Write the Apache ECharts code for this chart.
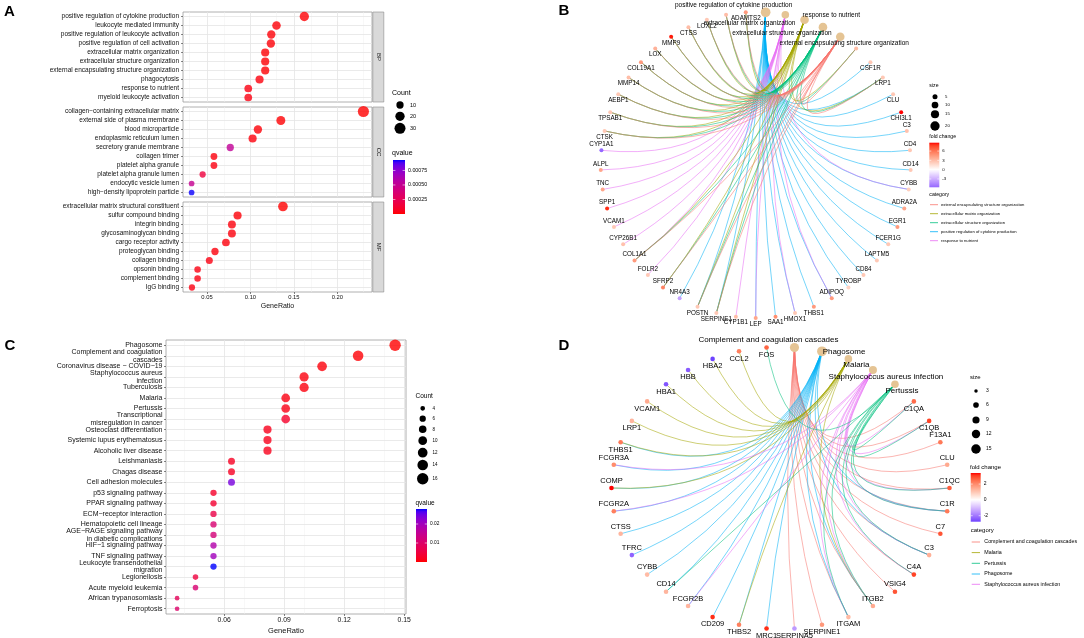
<!DOCTYPE html>
<html>
<head>
<meta charset="utf-8">
<script src="https://cdn.jsdelivr.net/npm/echarts@6.0.0/dist/echarts.min.js"></script>
<style>
html,body{margin:0;padding:0;background:#ffffff;}
#chart{width:1084px;height:638px;}
</style>
</head>
<body>
<div id="chart"></div>
<script>
// ================= DATA =================
// Panel A : GO enrichment (three facets)
const bpTerms = ['positive regulation of cytokine production','leukocyte mediated immunity','positive regulation of leukocyte activation','positive regulation of cell activation','extracellular matrix organization','extracellular structure organization','external encapsulating structure organization','phagocytosis','response to nutrient','myeloid leukocyte activation'];
const bpRatio = [0.162,0.130,0.124,0.1235,0.117,0.117,0.117,0.1105,0.0975,0.0975];
const bpCount = [20,16,15,15,14,14,14,14,12,12];
const bpQ = [0.00001,0.00002,0.00002,0.00002,0.00001,0.00001,0.00001,0.00003,0.00004,0.00004];

const ccTerms = ['collagen−containing extracellular matrix','external side of plasma membrane','blood microparticle','endoplasmic reticulum lumen','secretory granule membrane','collagen trimer','platelet alpha granule','platelet alpha granule lumen','endocytic vesicle lumen','high−density lipoprotein particle'];
const ccRatio = [0.230,0.135,0.1086,0.1025,0.0768,0.058,0.058,0.045,0.0323,0.0323];
const ccCount = [31,18,15,14,10,8,8,6,4,4];
const ccQ = [0.000001,0.00001,0.00002,0.00003,0.00052,0.00003,0.00004,0.00016,0.00050,0.00092];

const mfTerms = ['extracellular matrix structural constituent','sulfur compound binding','integrin binding','glycosaminoglycan binding','cargo receptor activity','proteoglycan binding','collagen binding','opsonin binding','complement binding','IgG binding'];
const mfRatio = [0.1374,0.0852,0.0787,0.0787,0.0718,0.0592,0.0527,0.0392,0.0392,0.0327];
const mfCount = [22,14,13,13,12,10,9,7,7,6];
const mfQ = [0.000001,0.00002,0.00003,0.00003,0.00003,0.00003,0.00004,0.00004,0.00004,0.00004];

const facetNames = ['BP','CC','MF'];
const ratioTicksA = [0.05,0.10,0.15,0.20];
const countLegendA = [10,20,30];
const qTicksA = [0.00025,0.00050,0.00075];

// Panel C : KEGG enrichment
const keggTerms = ['Phagosome','Complement and coagulation\ncascades','Coronavirus disease − COVID−19','Staphylococcus aureus\ninfection','Tuberculosis','Malaria','Pertussis','Transcriptional\nmisregulation in cancer','Osteoclast differentiation','Systemic lupus erythematosus','Alcoholic liver disease','Leishmaniasis','Chagas disease','Cell adhesion molecules','p53 signaling pathway','PPAR signaling pathway','ECM−receptor interaction','Hematopoietic cell lineage','AGE−RAGE signaling pathway\nin diabetic complications','HIF−1 signaling pathway','TNF signaling pathway','Leukocyte transendothelial\nmigration','Legionellosis','Acute myeloid leukemia','African trypanosomiasis','Ferroptosis'];
const keggRatio = [0.1455,0.127,0.109,0.100,0.100,0.0908,0.0908,0.0908,0.0817,0.0817,0.0817,0.0637,0.0637,0.0637,0.0547,0.0547,0.0547,0.0547,0.0547,0.0547,0.0547,0.0547,0.0457,0.0457,0.0365,0.0365];
const keggCount = [16,14,12,11,11,10,10,10,9,9,9,7,7,7,6,6,6,6,6,6,6,6,5,5,4,4];
const keggQ = [0.00003,0.0004,0.0008,0.001,0.001,0.0012,0.0015,0.003,0.002,0.002,0.002,0.0025,0.0025,0.024,0.003,0.0035,0.006,0.011,0.012,0.018,0.020,0.0279,0.005,0.011,0.008,0.010];
const ratioTicksC = [0.06,0.09,0.12,0.15];
const countLegendC = [4,6,8,10,12,14,16];
const qTicksC = [0.01,0.02];

// Panel B : GO cnetplot
const bCats = ['positive regulation of cytokine production','response to nutrient','extracellular matrix organization','extracellular structure organization','external encapsulating structure organization'];
const bGenes = ['?1','CSF1R','LRP1','CLU','CHI3L1','C3','CD4','CD14','CYBB','ADRA2A','EGR1','FCER1G','LAPTM5','CD84','TYROBP','ADIPOQ','THBS1','HMOX1','SAA1','LEP','CYP1B1','SERPINE1','POSTN','NR4A3','SFRP2','FOLR2','COL1A1','CYP26B1','VCAM1','SPP1','TNC','ALPL','CYP1A1','CTSK','TPSAB1','AEBP1','MMP14','COL19A1','LOX','MMP9','CTSS','LOXL2','?2','ADAMTS2'];
const bFoldChange = [3,2.5,2.5,2.5,8.7,2.8,2.5,2.5,2.2,4,4.5,2.5,2.5,2.5,2,4.5,4.5,2.5,5,4,3,2.5,2.5,-3.5,5.5,2.5,4.5,2.8,2.5,8.2,4,4,-5.7,2.5,2.5,2.5,3,4.5,3.5,8.5,3,2.5,3,4.5];
const bCytokineGenes = ['NR4A3','POSTN','SERPINE1','LEP','SAA1','HMOX1','THBS1','ADIPOQ','TYROBP','CD84','LAPTM5','FCER1G','EGR1','ADRA2A','CYBB','CD14','CD4','C3','CHI3L1','CLU','LRP1','CSF1R'];
const bNutrientGenes = ['CYP1A1','ALPL','TNC','SPP1','VCAM1','CYP26B1','COL1A1','FOLR2','CYP1B1','LEP','HMOX1','ADIPOQ','CYBB'];
const bMatrixGenes = ['ADAMTS2','?2','LOXL2','CTSS','MMP9','LOX','COL19A1','MMP14','AEBP1','TPSAB1','CTSK','COL1A1','SFRP2','POSTN','SERPINE1','LRP1','?1'];
const bStructureGenes = ['ADAMTS2','?2','LOXL2','CTSS','MMP9','LOX','COL19A1','MMP14','AEBP1','TPSAB1','CTSK','COL1A1','SFRP2','POSTN','SERPINE1','LRP1','?1'];
const bEncapsGenes = ['ADAMTS2','?2','LOXL2','CTSS','MMP9','LOX','COL19A1','MMP14','AEBP1','TPSAB1','CTSK','COL1A1','SFRP2','POSTN','SERPINE1','LRP1','?1'];
const bSizeLegend = [5,10,15,20];
const bFcTicks = [-3,0,3,6];

// Panel D : KEGG cnetplot
const dCats = ['Complement and coagulation cascades','Phagosome','Malaria','Staphylococcus aureus infection','Pertussis'];
const dGenes = ['C1QA','C1QB','F13A1','CLU','C1QC','C1R','C7','C3','C4A','VSIG4','ITGB2','ITGAM','SERPINE1','SERPINA5','MRC1','THBS2','CD209','FCGR2B','CD14','CYBB','TFRC','CTSS','FCGR2A','COMP','FCGR3A','THBS1','LRP1','VCAM1','HBA1','HBB','HBA2','CCL2','FOS'];
const dFoldChange = [2.5,3.0,2.3,1.5,2.7,2.3,2.8,1.4,3.0,2.8,1.5,1.2,1.8,-1.5,3.2,2.2,3.2,1.3,1.3,1.2,-2.3,1.3,2.2,3.4,2.0,2.3,1.3,1.5,-2.5,-2.4,-2.76,2.2,2.6];
const dComplementGenes = ['C1QA','C1QB','C1QC','C1R','C3','C4A','C7','CLU','F13A1','SERPINA5','SERPINE1','VSIG4','ITGAM','ITGB2'];
const dPhagosomeGenes = ['C1R','C3','CD14','CD209','COMP','CTSS','CYBB','FCGR2A','FCGR2B','FCGR3A','ITGAM','ITGB2','MRC1','TFRC','THBS1','THBS2'];
const dMalariaGenes = ['CCL2','COMP','HBA1','HBA2','HBB','LRP1','THBS1','THBS2','VCAM1','ITGB2'];
const dStaphGenes = ['C1QA','C1QB','C1QC','C1R','C3','C4A','FCGR2A','FCGR2B','FCGR3A','ITGAM','ITGB2'];
const dPertussisGenes = ['C1QA','C1QB','C1QC','C1R','C3','C4A','CD14','FOS','ITGAM','ITGB2'];
const dSizeLegend = [3,6,9,12,15];
const dFcTicks = [-2,0,2];

// ================= HELPERS =================
const FONT = '"Liberation Sans", Arial, Helvetica, sans-serif';
function hexToRgb(h){h=h.replace('#','');return [parseInt(h.slice(0,2),16),parseInt(h.slice(2,4),16),parseInt(h.slice(4,6),16)];}
function toLin(c){c/=255;return c<=0.04045?c/12.92:Math.pow((c+0.055)/1.055,2.4);}
function fromLin(c){c=Math.max(0,Math.min(1,c));return Math.round(255*(c<=0.0031308?12.92*c:1.055*Math.pow(c,1/2.4)-0.055));}
function rgbToLab(rgb){const R=toLin(rgb[0]),G=toLin(rgb[1]),B=toLin(rgb[2]);
  const X=(0.4124*R+0.3576*G+0.1805*B)/0.95047,Y=0.2126*R+0.7152*G+0.0722*B,Z=(0.0193*R+0.1192*G+0.9505*B)/1.08883;
  const f=t=>t>0.008856?Math.cbrt(t):7.787*t+16/116;const fx=f(X),fy=f(Y),fz=f(Z);
  return [116*fy-16,500*(fx-fy),200*(fy-fz)];}
function labToHex(lab){const fy=(lab[0]+16)/116,fx=fy+lab[1]/500,fz=fy-lab[2]/200;
  const fi=t=>{const t3=t*t*t;return t3>0.008856?t3:(t-16/116)/7.787;};
  const X=fi(fx)*0.95047,Y=fi(fy),Z=fi(fz)*1.08883;
  const r=fromLin(3.2406*X-1.5372*Y-0.4986*Z),g=fromLin(-0.9689*X+1.8758*Y+0.0415*Z),b=fromLin(0.0557*X-0.2040*Y+1.0570*Z);
  return '#'+[r,g,b].map(v=>v.toString(16).padStart(2,'0')).join('');}
function labMix(c1,c2,t){const a=rgbToLab(hexToRgb(c1)),b=rgbToLab(hexToRgb(c2));
  return labToHex([a[0]+(b[0]-a[0])*t,a[1]+(b[1]-a[1])*t,a[2]+(b[2]-a[2])*t]);}
function grad2(v,lim){const t=0.5+v/(2*lim);
  return t<0.5?labMix('#0000ff','#ffffff',t/0.5):labMix('#ffffff','#ff0000',(t-0.5)/0.5);}
const qStops=[];for(let i=0;i<=8;i++)qStops.push(labMix('#ff0000','#0000ff',i/8));

const sizeA=c=>Math.sqrt(19+3.4*c);
const sizeC=c=>Math.sqrt(Math.max(4,-14+9*c));
const sizeB=n=>Math.sqrt(4.5+4.1*n);
const sizeD=n=>Math.sqrt(Math.max(4,-7.25+6.5*n));

const hue5=['#F8766D','#A3A500','#00BF7D','#00B0F6','#E76BF3'];
function hueMap(cats){const s=cats.slice().sort((a,b)=>a.toLowerCase()<b.toLowerCase()?-1:1);const m={};s.forEach((c,i)=>m[c]=hue5[i]);return {map:m,order:s};}

// ================= LAYOUT =================
const gA=[{left:183,top:12,width:189,height:90},{left:183,top:107,width:189,height:90},{left:183,top:202,width:189,height:90}];
const gC={left:166,top:340,width:240,height:274};
const gB={left:600.7,top:12,width:310,height:306};
const gD={left:611.5,top:347,width:338,height:282};
const xRangeA=[0.0224,0.2399], xRangeC=[0.03095,0.15095];

const grids=[], xAxes=[], yAxes=[], series=[], graphics=[];
const facets=[[bpTerms,bpRatio,bpCount,bpQ],[ccTerms,ccRatio,ccCount,ccQ],[mfTerms,mfRatio,mfCount,mfQ]];
const gridStyle={show:true,borderColor:'#9c9c9c',borderWidth:0.8,backgroundColor:'#ffffff'};

facets.forEach((f,i)=>{
  grids.push(Object.assign({},gA[i],gridStyle));
  const last=i===2;
  xAxes.push({type:'value',gridIndex:i,min:xRangeA[0],max:xRangeA[1],axisLine:{show:false},splitLine:{show:false},
    axisTick:{show:last,length:2,customValues:ratioTicksA,lineStyle:{color:'#333',width:0.6}},
    axisLabel:{show:last,customValues:ratioTicksA,formatter:v=>v.toFixed(2),fontSize:5.8,color:'#111',margin:2.5,fontFamily:FONT},
    name:last?'GeneRatio':'',nameLocation:'middle',nameGap:11,nameTextStyle:{fontSize:7,color:'#111',fontFamily:FONT}});
  yAxes.push({type:'category',gridIndex:i,data:f[0],inverse:true,axisLine:{show:false},splitLine:{show:false},
    axisTick:{show:true,alignWithLabel:true,interval:0,length:2,lineStyle:{color:'#333',width:0.6}},
    axisLabel:{interval:0,fontSize:6.5,color:'#111',margin:4,fontFamily:FONT}});
});
grids.push(Object.assign({},gC,gridStyle));
xAxes.push({type:'value',gridIndex:3,min:xRangeC[0],max:xRangeC[1],axisLine:{show:false},splitLine:{show:false},
  axisTick:{show:true,length:2,customValues:ratioTicksC,lineStyle:{color:'#333',width:0.6}},
  axisLabel:{customValues:ratioTicksC,formatter:v=>v.toFixed(2),fontSize:6.8,color:'#111',margin:3,fontFamily:FONT},
  name:'GeneRatio',nameLocation:'middle',nameGap:13,nameTextStyle:{fontSize:7.5,color:'#111',fontFamily:FONT}});
yAxes.push({type:'category',gridIndex:3,data:keggTerms,inverse:true,axisLine:{show:false},splitLine:{show:false},
  axisTick:{show:true,alignWithLabel:true,interval:0,length:2,lineStyle:{color:'#333',width:0.6}},
  axisLabel:{interval:0,fontSize:7,lineHeight:7.7,color:'#111',margin:3.5,fontFamily:FONT}});
[gB,gD].forEach((g,k)=>{
  grids.push(Object.assign({},g,{show:false}));
  xAxes.push({type:'value',gridIndex:4+k,min:-1,max:1,show:false});
  yAxes.push({type:'value',gridIndex:4+k,min:-1,max:1,show:false});
});

// scatter series (A facets, C)
facets.forEach((f,i)=>{
  series.push({type:'scatter',xAxisIndex:i,yAxisIndex:i,z:6,silent:true,
    data:f[0].map((t,j)=>[f[1][j],t,f[2][j],f[3][j]]),symbolSize:v=>sizeA(v[2])});
});
series.push({type:'scatter',xAxisIndex:3,yAxisIndex:3,z:6,silent:true,
  data:keggTerms.map((t,j)=>[keggRatio[j],t,keggCount[j],keggQ[j]]),symbolSize:v=>sizeC(v[2])});

// network series
function makeNet(cats,sets,genes,fc,lim,opts){
  const hm=hueMap(cats).map;
  const N=cats.length+genes.length, step=360/N, a0=90-step/2;
  const nodes=[];
  cats.forEach((c,i)=>{const th=(a0-i*step)*Math.PI/180;
    nodes.push({id:opts.prefix+'c'+i,name:c,value:[Math.cos(th),Math.sin(th)],symbolSize:opts.catSize(sets[i].length),
      itemStyle:{color:'#E5C494'},
      label:{show:true,position:'inside',offset:opts.catOffsets[i],align:'center',verticalAlign:'middle',fontSize:opts.catFont,color:'#000'}});});
  genes.forEach((g,j)=>{const i=cats.length+j;const deg=a0-i*step;const th=deg*Math.PI/180;
    const d=((deg%360)+540)%360-180;
    const pos=((d>20&&d<170)||(d<-65&&d>-115))?'bottom':'top';
    nodes.push({id:opts.prefix+'g'+j,name:g,value:[Math.cos(th),Math.sin(th)],symbolSize:opts.geneSize,
      itemStyle:{color:grad2(fc[j],lim)},
      label:{show:g.charAt(0)!=='?',position:pos,distance:1,fontSize:opts.geneFont,color:'#000'}});});
  const links=[];
  sets.forEach((s,k)=>s.forEach(g=>{const j=genes.indexOf(g);if(j>=0)links.push({source:k,target:cats.length+j,lineStyle:{color:hm[cats[k]],curveness:0}});}));
  return {nodes,links};
}
const limB=Math.max(...bFoldChange.map(Math.abs)), limD=Math.max(...dFoldChange.map(Math.abs));
const netB=makeNet(bCats,[bCytokineGenes,bNutrientGenes,bMatrixGenes,bStructureGenes,bEncapsGenes],bGenes,bFoldChange,limB,
  {prefix:'b',catSize:sizeB,geneSize:4,geneFont:6.3,catFont:6.5,catOffsets:[[-32,-7],[46,0],[-55,3],[-41,6],[4,6]]});
const netD=makeNet(dCats,[dComplementGenes,dPhagosomeGenes,dMalariaGenes,dStaphGenes,dPertussisGenes],dGenes,dFoldChange,limD,
  {prefix:'d',catSize:sizeD,geneSize:4.6,geneFont:7.5,catFont:8,catOffsets:[[-26,-8],[22,0],[8,6],[13,7],[7,7]]});
[netB,netD].forEach((n,k)=>{
  series.push({type:'graph',coordinateSystem:'cartesian2d',xAxisIndex:4+k,yAxisIndex:4+k,layout:'none',silent:true,z:6,
    data:n.nodes,links:n.links,emphasis:{disabled:true},
    lineStyle:{width:0.8,opacity:0.68},label:{show:true,fontFamily:FONT,color:'#000'}});
});

// panel grid lines (markLine in helper series, kept below the dots)
function gridLines(ai,majors,minors,nCat){
  const data=[];
  minors.forEach(v=>data.push({xAxis:v,lineStyle:{color:'#F0F0F0',width:0.5,type:'solid'}}));
  majors.forEach(v=>data.push({xAxis:v,lineStyle:{color:'#E4E4E4',width:0.8,type:'solid'}}));
  for(let i=0;i<nCat;i++)data.push({yAxis:i,lineStyle:{color:'#E4E4E4',width:0.8,type:'solid'}});
  return {type:'line',xAxisIndex:ai,yAxisIndex:ai,data:[],z:1,silent:true,
    markLine:{z:1,silent:true,symbol:['none','none'],label:{show:false},animation:false,emphasis:{disabled:true},data:data}};
}
[0,1,2].forEach(i=>series.push(gridLines(i,ratioTicksA,[0.025,0.075,0.125,0.175,0.225],10)));
series.push(gridLines(3,ratioTicksC,[0.045,0.075,0.105,0.135],keggTerms.length));

// ================= GRAPHIC (strips, legends, letters) =================
function txt(x,y,s,fs,o){o=o||{};graphics.push({type:'text',x:x,y:y,rotation:o.rot||0,silent:true,z:100,
  style:{text:s,fontSize:fs,fontFamily:FONT,fill:o.fill||'#000',fontWeight:o.bold?'bold':'normal',align:o.align||'left',verticalAlign:o.valign||'middle'}});}
function circ(x,y,d,fill){graphics.push({type:'circle',shape:{cx:x,cy:y,r:d/2},style:{fill:fill||'#000'},silent:true,z:100});}
function rect(x,y,w,h,style){graphics.push({type:'rect',shape:{x:x,y:y,width:w,height:h},style:style,silent:true,z:99});}
function line(x1,y1,x2,y2,stroke,w){graphics.push({type:'line',shape:{x1:x1,y1:y1,x2:x2,y2:y2},style:{stroke:stroke,lineWidth:w},silent:true,z:101});}
function colorbar(x,y,w,h,vmin,vmax,colorFn,ticks,fmt,fs){
  const stops=[];for(let i=0;i<=20;i++){const v=vmax-(vmax-vmin)*i/20;stops.push({offset:i/20,color:colorFn(v)});}
  rect(x,y,w,h,{fill:new echarts.graphic.LinearGradient(0,0,0,1,stops)});
  ticks.forEach(t=>{const ty=y+h*(vmax-t)/(vmax-vmin);
    line(x,ty,x+w*0.2,ty,'#ffffff',0.6);line(x+w*0.8,ty,x+w,ty,'#ffffff',0.6);
    txt(x+w+3,ty,fmt(t),fs);});
}
// facet strips
gA.forEach((g,i)=>{rect(g.left+g.width+0.8,g.top,11,g.height,{fill:'#D9D9D9',stroke:'#8a8a8a',lineWidth:0.6});
  txt(g.left+g.width+6.3,g.top+g.height/2,facetNames[i],6,{align:'center',rot:-Math.PI/2,fill:'#1a1a1a'});});
// A legends
txt(392,93,'Count',7);
countLegendA.forEach((c,i)=>{const y=[105,116.3,128.3][i];circ(400,y,sizeA(c));txt(410,y,String(c),5.5);});
txt(392,152.7,'qvalue',7);
const qColA=v=>{const t=v/0.00093;return labMix('#ff0000','#0000ff',Math.max(0,Math.min(1,t)));};
colorbar(393,160,12,54,0,0.00093,qColA,qTicksA,v=>v.toFixed(5),5.3);
// C legends
txt(415.5,396.7,'Count',6.5);
const cLegY=[408.3,418.7,429.3,440.7,452.7,465,478.7];
countLegendC.forEach((c,i)=>{circ(422.7,cLegY[i],sizeC(c));txt(432.5,cLegY[i],String(c),4.5);});
txt(415.5,503,'qvalue',6.5);
const qColC=v=>labMix('#ff0000','#0000ff',Math.max(0,Math.min(1,v/0.0279)));
colorbar(416,509,11,53,0,0.0279,qColC,qTicksC,v=>v.toFixed(2),4.8);
// B legends
const fcB=[Math.min(...bFoldChange),Math.max(...bFoldChange)];
txt(929.3,86,'size',5.2);
bSizeLegend.forEach((s,i)=>{const y=[96.7,105,114.3,126][i];circ(935,y,sizeB(s));txt(945,y,String(s),4.3);});
txt(929.3,137,'fold change',5.2);
colorbar(929.3,142.7,10,44.6,fcB[0],fcB[1],v=>grad2(v,limB),bFcTicks,v=>String(v),4.3);
txt(929.3,194.3,'category',5.2);
const hmB=hueMap(bCats);
hmB.order.forEach((c,i)=>{const y=204.7+9*i;line(930,y,938,y,hmB.map[c],0.8);txt(941,y,c,4.2);});
// D legends
const fcD=[Math.min(...dFoldChange),Math.max(...dFoldChange)];
txt(970,377,'size',6);
dSizeLegend.forEach((s,i)=>{const y=[391,405,420,434,449][i];circ(976,y,sizeD(s));txt(986,y,String(s),5);});
txt(970,467,'fold change',6);
colorbar(970.7,473,10,48.7,fcD[0],fcD[1],v=>grad2(v,limD),dFcTicks,v=>String(v),5);
txt(970.7,530.7,'category',6);
const hmD=hueMap(dCats);
const dLegY=[542,552.6,563.3,574,584.3];
hmD.order.forEach((c,i)=>{line(971.7,dLegY[i],980,dLegY[i],hmD.map[c],0.8);txt(984.3,dLegY[i],c,5.3);});
// panel letters
txt(9.5,12,'A',15,{bold:true,align:'center'});
txt(564,11,'B',15,{bold:true,align:'center'});
txt(10,346,'C',15,{bold:true,align:'center'});
txt(564,346,'D',15,{bold:true,align:'center'});

// ================= CHART =================
const option={animation:false,backgroundColor:'#ffffff',textStyle:{fontFamily:FONT},
  grid:grids,xAxis:xAxes,yAxis:yAxes,
  visualMap:[
    {type:'continuous',show:false,seriesIndex:[0,1,2],dimension:3,min:0,max:0.00093,inRange:{color:qStops}},
    {type:'continuous',show:false,seriesIndex:[3],dimension:3,min:0,max:0.0279,inRange:{color:qStops}}],
  series:series,graphic:{elements:graphics}};
const chart=echarts.init(document.getElementById('chart'),null,{renderer:'canvas'});
chart.setOption(option);
// bend every edge toward the circle centre (control point at centre, in pixel space)
function setCurves(s,gi){
  const C=chart.convertToPixel({gridIndex:gi},[0,0]);
  s.links.forEach(l=>{
    const p1=chart.convertToPixel({gridIndex:gi},s.data[l.source].value);
    const p2=chart.convertToPixel({gridIndex:gi},s.data[l.target].value);
    const dx=p2[0]-p1[0],dy=p2[1]-p1[1],mx=(p1[0]+p2[0])/2,my=(p1[1]+p2[1])/2;
    l.lineStyle.curveness=((C[0]-mx)*dy+(C[1]-my)*(-dx))/(dx*dx+dy*dy);
  });
}
setCurves(series[4],4);setCurves(series[5],5);
chart.setOption(option,true);
</script>
</body>
</html>
